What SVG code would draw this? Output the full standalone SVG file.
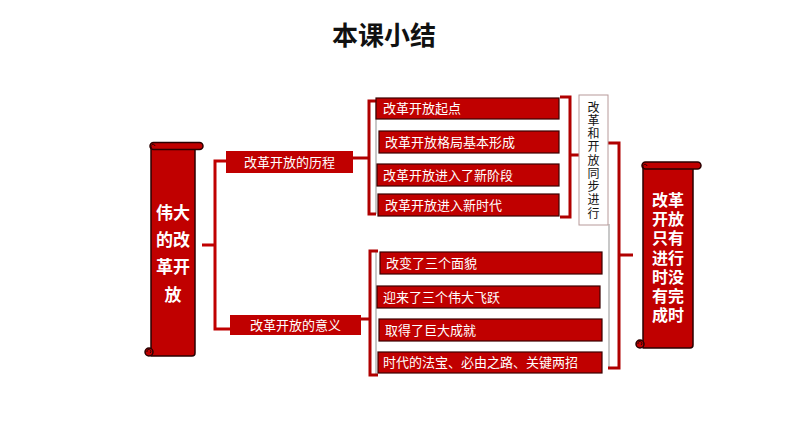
<svg xmlns="http://www.w3.org/2000/svg" width="794" height="447" viewBox="0 0 794 447">
<style>
.box{fill:#C00000;stroke:#3a0000;stroke-width:1.2}
.wt{fill:#fff;font-family:"Noto Sans CJK SC","Noto Sans CJK JP",sans-serif;font-size:13px}
.bt{fill:#fff;font-family:"Noto Sans CJK SC","Noto Sans CJK JP",sans-serif;font-weight:bold;text-anchor:middle}
.scroll{fill:#C00000;stroke:#2a0000;stroke-width:1.5;stroke-linejoin:round}
.br{fill:none;stroke:#B00000;stroke-width:3;stroke-linejoin:miter}
.ln{fill:none;stroke:#C00000;stroke-width:3}
.sh{fill:none;stroke:#c8c8c8;stroke-width:2}
</style>
<rect width="794" height="447" fill="#fff"/>
<text x="384" y="45" text-anchor="middle" font-family="'Noto Sans CJK SC',sans-serif" font-weight="bold" font-size="26" fill="#111">本课小结</text>

<g id="connectors">
  <line class="sh" x1="376" y1="101" x2="376" y2="214"/>
  <line class="sh" x1="376" y1="252" x2="376" y2="375"/>
  <line class="sh" x1="609" y1="224" x2="609" y2="368"/>
  <path class="ln" d="M202,245 H215 M228,161 H215 V329 H231"/>
  <path class="br" d="M353,158 H369 M376,101 H369 V214 H376"/>
  <path class="br" d="M361,319 H370 M378,251 H370 V375 H378"/>
  <path class="br" d="M560,97 H570 V217 H560 M570,155 H579"/>
  <path class="br" d="M608,143 H619 V368 H608 M619,255 H633"/>
</g>

<g id="left-scroll">
  <path class="scroll" d="M151,146 H195 V353 Q195,356 192,356 H151 Z"/>
  <circle class="scroll" cx="149" cy="352" r="4"/>
  <path d="M147,352 a2,2 0 1 1 3,1" fill="none" stroke="#2a0000" stroke-width="1"/>
  <rect class="scroll" x="150" y="142.5" width="53" height="7" rx="3.5"/>
  <path d="M152,148 a2,2 0 1 1 3,-2" fill="none" stroke="#2a0000" stroke-width="1"/>
  <text class="bt" font-size="17" x="173" y="219">伟大<tspan x="173" dy="27">的改</tspan><tspan x="173" dy="27">革开</tspan><tspan x="173" dy="28">放</tspan></text>
</g>

<g id="branch-process">
  <rect class="box" x="226" y="151" width="127" height="22" style="stroke:none"/>
  <text class="wt" x="289.5" y="166.5" text-anchor="middle">改革开放的历程</text>
</g>
<g id="branch-meaning">
  <rect class="box" x="230" y="315" width="131" height="20" style="stroke:none"/>
  <text class="wt" x="295.5" y="330" text-anchor="middle">改革开放的意义</text>
</g>

<g id="p1"><rect class="box" x="376" y="98" width="183" height="21"/><text class="wt" x="383" y="113">改革开放起点</text></g>
<g id="p2"><rect class="box" x="379" y="131" width="180" height="22"/><text class="wt" x="385" y="147">改革开放格局基本形成</text></g>
<g id="p3"><rect class="box" x="377" y="164" width="182" height="22"/><text class="wt" x="383" y="180">改革开放进入了新阶段</text></g>
<g id="p4"><rect class="box" x="378" y="194" width="181" height="22"/><text class="wt" x="385" y="210">改革开放进入新时代</text></g>

<g id="m1"><rect class="box" x="380" y="252" width="222" height="22"/><text class="wt" x="386" y="268">改变了三个面貌</text></g>
<g id="m2"><rect class="box" x="377" y="286" width="223" height="22"/><text class="wt" x="383" y="302">迎来了三个伟大飞跃</text></g>
<g id="m3"><rect class="box" x="379" y="319" width="223" height="22"/><text class="wt" x="385" y="335">取得了巨大成就</text></g>
<g id="m4"><rect class="box" x="378" y="352" width="224" height="21"/><text class="wt" x="383" y="367">时代的法宝、必由之路、关键两招</text></g>

<g id="sync">
  <rect x="579" y="95" width="29" height="130" fill="#fff" stroke="#b79a9a" stroke-width="1"/>
  <text x="593.5" y="101" writing-mode="vertical-rl" letter-spacing="1.25" font-family="'Noto Sans CJK SC',sans-serif" font-size="12" fill="#111">改革和开放同步进行</text>
</g>

<g id="right-scroll">
  <path class="scroll" d="M643,165 H693 V345 Q693,348 690,348 H643 Z"/>
  <circle class="scroll" cx="640" cy="344" r="4"/>
  <path d="M638,344 a2,2 0 1 1 3,1" fill="none" stroke="#2a0000" stroke-width="1"/>
  <rect class="scroll" x="642" y="162" width="59" height="7" rx="3.5"/>
  <path d="M644,168 a2,2 0 1 1 3,-2" fill="none" stroke="#2a0000" stroke-width="1"/>
  <text class="bt" font-size="16" style="font-family:'Liberation Sans','Noto Sans CJK SC',sans-serif" x="668" y="206">改革<tspan x="668" dy="19.2">开放</tspan><tspan x="668" dy="19.2">只有</tspan><tspan x="668" dy="19.2">进行</tspan><tspan x="668" dy="19.2">时没</tspan><tspan x="668" dy="19.2">有完</tspan><tspan x="668" dy="19.2">成时</tspan></text>
</g>
</svg>
